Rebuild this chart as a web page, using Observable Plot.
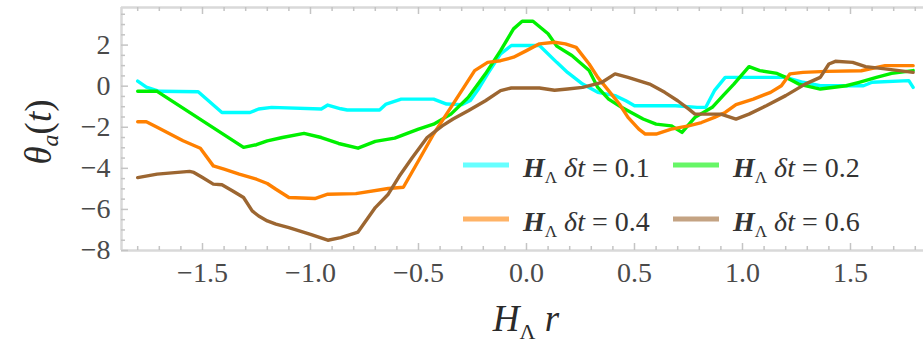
<!DOCTYPE html>
<html><head><meta charset="utf-8">
<script src="https://cdn.jsdelivr.net/npm/d3@7"></script>
<script src="https://cdn.jsdelivr.net/npm/@observablehq/plot@0.6"></script>
<style>body{margin:0;background:#fff} svg{display:block}</style>
</head><body><div id="chart"></div>
<script>
// ---- data ----
const seriesLabels = ["0.1", "0.2", "0.4", "0.6"];
const seriesColors = ["#00ffff", "#00f000", "#ff8000", "#9c6631"];

const cyan = [[-1.80,0.25],[-1.76,-0.05],[-1.70,-0.25],[-1.52,-0.27],[-1.41,-1.28],[-1.28,-1.28],[-1.24,-1.11],
  [-1.18,-1.03],[-0.95,-1.11],[-0.92,-0.92],[-0.86,-1.10],[-0.83,-1.16],[-0.68,-1.16],[-0.65,-0.87],[-0.58,-0.63],
  [-0.43,-0.63],[-0.37,-0.87],[-0.30,-0.90],[-0.26,-0.70],[-0.22,-0.10],[-0.18,0.60],[-0.12,1.57],[-0.07,1.98],
  [0.06,1.98],[0.14,1.16],[0.19,0.67],[0.26,0.10],[0.33,-0.30],[0.41,-0.46],[0.46,-0.71],[0.50,-0.95],[0.69,-0.95],
  [0.79,-1.03],[0.83,-1.03],[0.87,-0.22],[0.92,0.43],[1.20,0.43],[1.28,0.19],[1.36,0.02],[1.56,0.02],[1.60,0.19],
  [1.77,0.27],[1.79,-0.06]];
const green = [[-1.80,-0.25],[-1.71,-0.25],[-1.31,-2.98],[-1.25,-2.85],[-1.20,-2.66],[-1.13,-2.50],[-1.03,-2.30],
  [-0.95,-2.50],[-0.87,-2.79],[-0.78,-3.02],[-0.70,-2.69],[-0.61,-2.53],[-0.54,-2.25],[-0.50,-2.09],[-0.43,-1.85],
  [-0.35,-1.36],[-0.27,-0.55],[-0.19,0.60],[-0.12,1.73],[-0.06,2.79],[-0.02,3.16],[0.03,3.16],[0.10,2.55],[0.14,1.95],
  [0.21,1.49],[0.29,0.76],[0.33,-0.06],[0.38,-0.63],[0.44,-1.03],[0.54,-1.60],[0.60,-1.85],[0.67,-1.93],[0.72,-2.25],
  [0.78,-1.52],[0.86,-1.03],[0.91,-0.46],[0.96,0.10],[1.03,0.95],[1.08,0.76],[1.16,0.62],[1.20,0.43],[1.26,0.10],
  [1.36,-0.14],[1.48,0.02],[1.54,0.19],[1.62,0.43],[1.69,0.62],[1.79,0.76]];
const orange = [[-1.80,-1.73],[-1.76,-1.73],[-1.71,-2.00],[-1.59,-2.66],[-1.51,-3.02],[-1.45,-3.88],[-1.40,-4.04],
  [-1.33,-4.28],[-1.25,-4.53],[-1.20,-4.74],[-1.16,-5.02],[-1.10,-5.42],[-0.98,-5.47],[-0.92,-5.26],[-0.79,-5.23],
  [-0.64,-4.98],[-0.57,-4.92],[-0.50,-3.63],[-0.43,-2.33],[-0.35,-1.03],[-0.29,-0.06],[-0.24,0.76],[-0.18,1.16],
  [-0.12,1.24],[-0.06,1.41],[0.00,1.73],[0.06,2.06],[0.13,2.14],[0.18,2.06],[0.23,1.89],[0.29,1.08],[0.33,0.43],
  [0.38,-0.22],[0.43,-0.87],[0.47,-1.52],[0.52,-2.09],[0.55,-2.33],[0.60,-2.33],[0.67,-2.09],[0.75,-1.93],[0.81,-1.77],
  [0.87,-1.52],[0.92,-1.28],[0.97,-0.90],[1.05,-0.63],[1.13,-0.30],[1.18,0.02],[1.22,0.60],[1.28,0.67],[1.39,0.72],
  [1.55,0.75],[1.66,1.00],[1.79,1.00]];
const brown = [[-1.80,-4.45],[-1.71,-4.28],[-1.56,-4.15],[-1.54,-4.20],[-1.50,-4.45],[-1.45,-4.77],[-1.41,-4.80],
  [-1.36,-5.10],[-1.31,-5.42],[-1.27,-6.07],[-1.24,-6.32],[-1.20,-6.56],[-1.16,-6.72],[-1.10,-6.89],[-1.00,-7.21],
  [-0.92,-7.50],[-0.86,-7.37],[-0.78,-7.10],[-0.70,-5.91],[-0.64,-5.26],[-0.59,-4.40],[-0.53,-3.50],[-0.46,-2.50],
  [-0.39,-1.93],[-0.34,-1.60],[-0.27,-1.20],[-0.19,-0.71],[-0.12,-0.22],[-0.07,-0.09],[0.06,-0.09],[0.13,-0.20],
  [0.19,-0.14],[0.26,-0.06],[0.35,0.19],[0.41,0.60],[0.47,0.43],[0.57,0.10],[0.64,-0.30],[0.70,-0.71],[0.75,-1.11],
  [0.78,-1.36],[0.90,-1.36],[0.97,-1.60],[1.03,-1.36],[1.11,-0.95],[1.20,-0.46],[1.29,0.10],[1.36,0.43],[1.40,1.08],
  [1.43,1.21],[1.51,1.16],[1.57,0.95],[1.66,0.84],[1.79,0.67]];
const seriesData = [cyan, green, orange, brown];

// ticks
const xMajor = [-1.5, -1.0, -0.5, 0.0, 0.5, 1.0, 1.5];
const xMinor = [-1.8,-1.7,-1.6,-1.4,-1.3,-1.2,-1.1,-0.9,-0.8,-0.7,-0.6,-0.4,-0.3,-0.2,-0.1,
                0.1,0.2,0.3,0.4,0.6,0.7,0.8,0.9,1.1,1.2,1.3,1.4,1.6,1.7,1.8];
const yMajor = [-8, -6, -4, -2, 0, 2];
const yMinor = [-7.5,-7,-6.5,-5.5,-5,-4.5,-3.5,-3,-2.5,-1.5,-1,-0.5,0.5,1,1.5,2.5,3,3.5];
const xDomain = [-1.875, 1.838];
const yDomain = [-8, 3.83];

const frameColor = "#d9d9d9";
const tickColor = "#c4c4c4";
const serif = "\"Liberation Serif\", \"Times New Roman\", Times, serif";

const lineMarks = seriesData.map((s, i) =>
  Plot.line(s, {x: d => d[0], y: d => d[1], stroke: seriesColors[i], strokeWidth: 3.4, strokeLinejoin: "round"}));

const chart = Plot.plot({
  width: 923, height: 348,
  marginLeft: 121, marginRight: 0, marginTop: 7, marginBottom: 98,
  style: {fontFamily: serif, fontSize: "28px", color: "#4a4a4a", background: "#fff"},
  x: {domain: xDomain, label: null},
  y: {domain: yDomain, label: null},
  marks: [
    // frame
    Plot.ruleY([yDomain[0], yDomain[1]], {stroke: frameColor, strokeWidth: 2.5}),
    Plot.ruleX([xDomain[0]], {stroke: frameColor, strokeWidth: 2.5}),
    // inward ticks bottom
    Plot.ruleX(xMajor, {y1: yDomain[0], y2: yDomain[0], insetTop: -7, stroke: tickColor, strokeWidth: 1.5}),
    Plot.ruleX(xMinor, {y1: yDomain[0], y2: yDomain[0], insetTop: -4, stroke: tickColor, strokeWidth: 1.5}),
    // inward ticks top
    Plot.ruleX(xMajor, {y1: yDomain[1], y2: yDomain[1], insetBottom: -7, stroke: tickColor, strokeWidth: 1.5}),
    Plot.ruleX(xMinor, {y1: yDomain[1], y2: yDomain[1], insetBottom: -4, stroke: tickColor, strokeWidth: 1.5}),
    // inward ticks left
    Plot.ruleY(yMajor, {x1: xDomain[0], x2: xDomain[0], insetRight: -7, stroke: tickColor, strokeWidth: 1.5}),
    Plot.ruleY(yMinor, {x1: xDomain[0], x2: xDomain[0], insetRight: -4, stroke: tickColor, strokeWidth: 1.5}),
    // tick labels
    Plot.axisX(xMajor, {tickSize: 0, tickPadding: 12, tickFormat: d3.format(".1f"), label: null, fontFamily: serif}),
    Plot.axisY(yMajor, {tickSize: 0, tickPadding: 11, tickFormat: d3.format("d"), label: null, fontFamily: serif}),
    ...lineMarks
  ]
});
document.getElementById("chart").appendChild(chart);

// ---- titles and legend (rich text) ----
const svg = d3.select(chart);

// y title
const yt = svg.append("text")
  .attr("transform", "translate(51,132) rotate(-90)")
  .attr("text-anchor", "middle").attr("font-family", serif).attr("font-size", 37).attr("fill", "#2a2a2a");
yt.append("tspan").attr("font-style", "italic").text("θ");
yt.append("tspan").attr("font-style", "italic").attr("font-size", 24).attr("dy", 7).text("a");
yt.append("tspan").attr("dy", -7).text("(");
yt.append("tspan").attr("font-style", "italic").text("t");
yt.append("tspan").text(")");

// x title
const xt = svg.append("text")
  .attr("x", 526).attr("y", 331)
  .attr("text-anchor", "middle").attr("font-family", serif).attr("font-size", 37).attr("fill", "#2a2a2a");
xt.append("tspan").attr("font-style", "italic").text("H");
xt.append("tspan").attr("font-size", 22).attr("dy", 8).text("Λ");
xt.append("tspan").attr("dy", -8).attr("font-style", "italic").text(" r");

// legend
const legendPos = [[463, 165], [673, 165], [463, 219], [673, 219]];
seriesLabels.forEach((lab, i) => {
  const [lx, ly] = legendPos[i];
  const g = svg.append("g");
  g.append("line").attr("x1", lx).attr("x2", lx + 46).attr("y1", ly).attr("y2", ly)
    .attr("stroke", seriesColors[i]).attr("stroke-width", 5).attr("stroke-opacity", 0.6);
  const t = g.append("text").attr("x", lx + 60).attr("y", ly + 12).attr("text-anchor", "start")
    .attr("font-family", serif).attr("font-size", 28).attr("fill", "#333");
  t.append("tspan").attr("font-style", "italic").attr("font-weight", "bold").text("H");
  t.append("tspan").attr("font-size", 17).attr("dy", 6).text("Λ");
  t.append("tspan").attr("dy", -6).text(" ");
  t.append("tspan").attr("font-style", "italic").text("δt");
  t.append("tspan").text(" = " + lab);
});
</script>
</body></html>
